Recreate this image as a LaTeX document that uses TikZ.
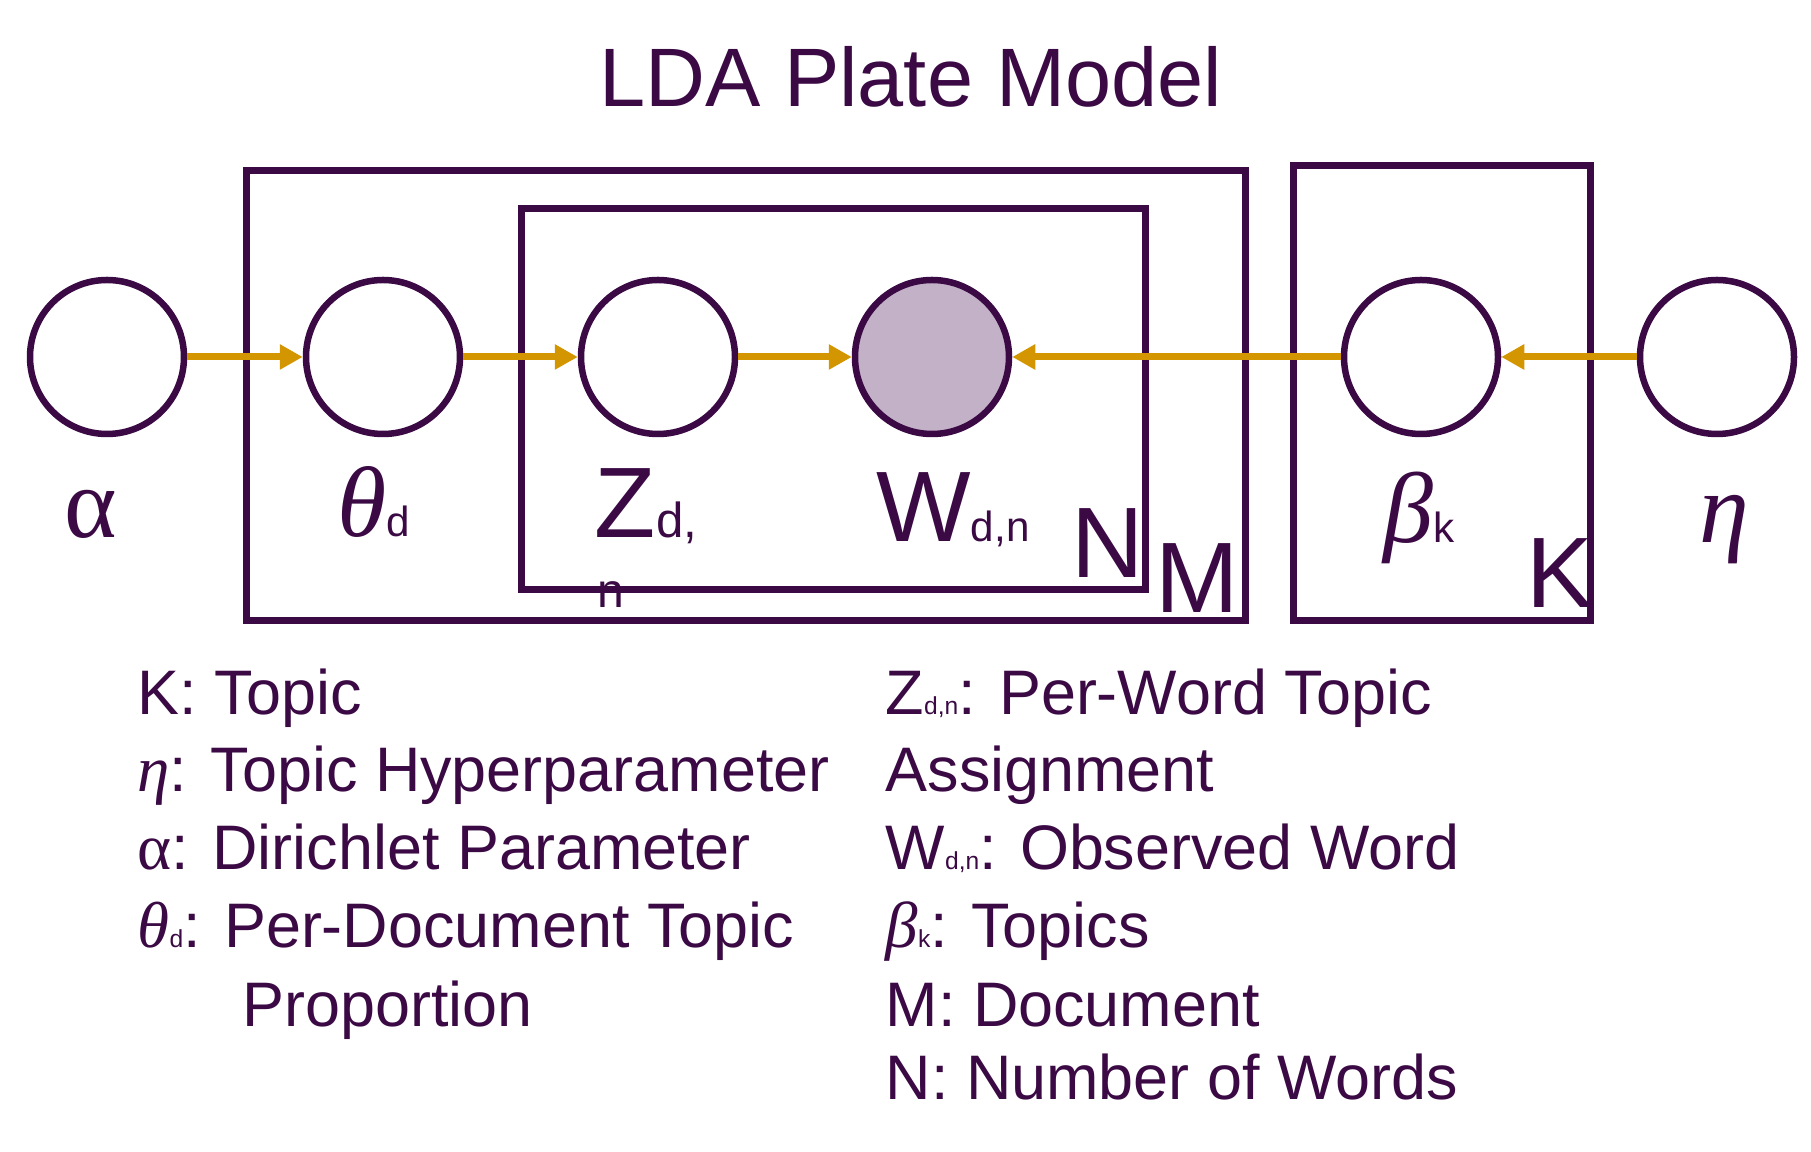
\documentclass[tikz,border=0pt]{standalone}
\usepackage{fontspec}
\setmainfont{Liberation Sans}
\newfontfamily\grkfont{Liberation Serif}
\usetikzlibrary{arrows.meta}

\definecolor{ldapurple}{HTML}{3B0A45}
\definecolor{obsfill}{HTML}{C3B1C8}
\definecolor{edgegold}{HTML}{D39500}

\newcommand{\fsz}[1]{\fontsize{#1pt}{#1pt}\selectfont}

\tikzset{
    latent/.style={circle, draw=ldapurple, line width=0.65mm, minimum size=15.4mm, inner sep=0pt, fill=white},
    observed/.style={latent, fill=obsfill},
    plate/.style={draw=ldapurple, line width=0.7mm},
    flow/.style={-{Triangle[length=2.3mm,width=2.4mm]}, draw=edgegold, line width=0.7mm},
    varlabel/.style={text=ldapurple, font=\fsz{28.5}, inner sep=0pt, anchor=base},
    platelabel/.style={text=ldapurple, font=\fsz{28.5}, inner sep=0pt, anchor=base west},
    legend/.style={text=ldapurple, font=\fsz{17.9}, inner sep=0pt, anchor=base west}
}

\begin{document}
\begin{tikzpicture}[x=0.1mm,y=-0.1mm]
    \useasboundingbox (0,0) rectangle (1811,1152);
    \node[text=ldapurple, font=\fsz{23.6}, inner sep=0pt, anchor=base] (title) at (911,107) {LDA Plate Model};

    % variable labels
    \node[varlabel] (lalpha) at (91,538) {{\grkfont α}};
    \node[varlabel] (ltheta) at (374,537) {{\grkfont\itshape θ}{\fsz{12}d}};
    \node[varlabel] (lz) at (646,538) {Z{\fsz{14}d,}};
    \node[text=ldapurple, font=\fsz{13.7}, inner sep=0pt, anchor=base west] (lzn) at (597,608) {n};
    \node[varlabel] (lw) at (953,542) {W{\fsz{12}d,n}};
    \node[varlabel] (lbeta) at (1419,543) {{\grkfont\itshape β}{\fsz{12}k}};
    \node[varlabel] (leta) at (1724,543) {{\grkfont\itshape η}};

    % plates
    \draw[plate] (246,171) rectangle (1245,621);
    \draw[plate] (521,209) rectangle (1145,590);
    \draw[plate] (1293,166) rectangle (1590,621);
    \node[platelabel] (pn) at (1071,578) {N};
    \node[platelabel] (pm) at (1155,613) {M};
    \node[platelabel] (pk) at (1526,608) {K};

    % nodes
    \node[latent] (alpha) at (107,357) {};
    \node[latent] (theta) at (383,357) {};
    \node[latent] (z) at (658,357) {};
    \node[observed] (w) at (932,357) {};
    \node[latent] (beta) at (1421,357) {};
    \node[latent] (eta) at (1717,357) {};

    \draw[flow] (alpha) -- (theta);
    \draw[flow] (theta) -- (z);
    \draw[flow] (z) -- (w);
    \draw[flow] (beta) -- (w);
    \draw[flow] (eta) -- (beta);

    % legend
    \node[legend] (k1) at (137,715) {K: Topic};
    \node[legend] (k2) at (137,792) {{\grkfont\itshape\fsz{18.5}η}: Topic Hyperparameter};
    \node[legend] (k3) at (137,870) {{\grkfont\fsz{18.5}α}: Dirichlet Parameter};
    \node[legend] (k4) at (137,948) {{\grkfont\itshape\fsz{18.5}θ}{\fsz{7}d}: Per-Document Topic};
    \node[legend] (k5) at (242,1027) {Proportion};
    \node[legend] (r1) at (885,715) {Z{\fsz{7}d,n}: Per-Word Topic};
    \node[legend] (r2) at (885,792) {Assignment};
    \node[legend] (r3) at (885,870) {W{\fsz{7}d,n}: Observed Word};
    \node[legend] (r4) at (885,948) {{\grkfont\itshape\fsz{18.5}β}{\fsz{7}k}: Topics};
    \node[legend] (r5) at (885,1027) {M: Document};
    \node[legend] (r6) at (885,1100) {N: Number of Words};
\end{tikzpicture}
\end{document}
